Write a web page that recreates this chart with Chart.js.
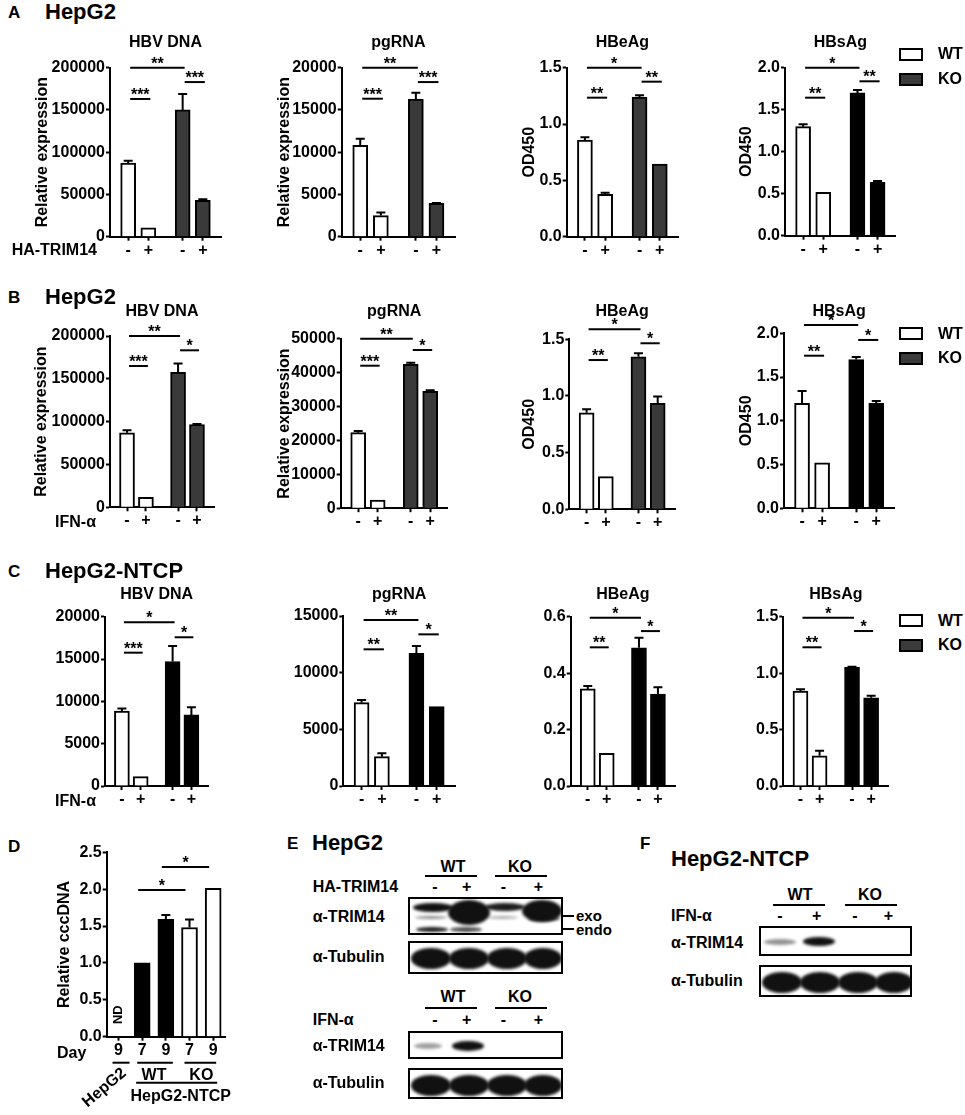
<!DOCTYPE html>
<html>
<head>
<meta charset="utf-8">
<script src="https://cdn.jsdelivr.net/npm/chart.js@4.4.1/dist/chart.umd.min.js"></script>
<style>
  body { margin: 0; background: #fff; width: 965px; height: 1115px; position: relative; overflow: hidden;
         font-family: 'Liberation Sans', Arial, sans-serif; font-weight: bold; color: #000; }
  .t { position: absolute; white-space: nowrap; line-height: 1; transform: translateY(-50%); }
  .r { transform: translate(-100%, -50%); }
  .c { transform: translate(-50%, -50%); }
  .hl { position: absolute; height: 2px; background: #000; }
  .blot { position: absolute; border: 2px solid #000; background: #fff; overflow: hidden; box-sizing: border-box; }
  .band { position: absolute; background: #111; border-radius: 50%; filter: blur(1.6px); }
  .sw { position: absolute; width: 24px; height: 13px; border: 2px solid #000; box-sizing: border-box; }
</style>
</head>
<body>
<script>
// ---------- data ----------
const signs = ['-', '+', '-', '+'];
const legendNames = ['WT', 'KO'];

// A: HepG2, HA-TRIM14
const aDnaVals = [87000, 10500, 150000, 43000];
const aDnaErr  = [3000, 0, 19000, 1200];
const aPgVals  = [10800, 2500, 16300, 3950];
const aPgErr   = [800, 350, 750, 50];
const aHbeVals = [0.858, 0.376, 1.24, 0.645];
const aHbeErr  = [0.025, 0.015, 0.015, 0];
const aHbsVals = [1.298, 0.517, 1.70, 0.635];
const aHbsErr  = [0.03, 0, 0.035, 0.015];

// B: HepG2, IFN-a
const bDnaVals = [87000, 11500, 157500, 96700];
const bDnaErr  = [3000, 0, 10500, 600];
const bPgVals  = [22300, 2400, 42500, 34500];
const bPgErr   = [500, 0, 400, 300];
const bHbeVals = [0.852, 0.288, 1.346, 0.935];
const bHbeErr  = [0.03, 0, 0.03, 0.06];
const bHbsVals = [1.2, 0.52, 1.70, 1.2];
const bHbsErr  = [0.14, 0, 0.03, 0.025];

// C: HepG2-NTCP, IFN-a
const cDnaVals = [8850, 1100, 14700, 8400];
const cDnaErr  = [320, 0, 1850, 900];
const cPgVals  = [7350, 2590, 11700, 7000];
const cPgErr   = [240, 300, 650, 0];
const cHbeVals = [0.344, 0.116, 0.49, 0.326];
const cHbeErr  = [0.01, 0, 0.035, 0.024];
const cHbsVals = [0.842, 0.268, 1.052, 0.782];
const cHbsErr  = [0.015, 0.045, 0.005, 0.018];

// D: relative cccDNA
const dDays  = ['9', '7', '9', '7', '9'];
const dCells = ['HepG2', 'WT', 'WT', 'KO', 'KO'];
const dVals  = [0, 1.0, 1.59, 1.48, 2.01];
const dErr   = [0, 0, 0.06, 0.11, 0];

// significance brackets: [bar from, bar to, level, stars]
const aDnaSig = [[0, 2, 200000, '**'], [0, 1, 163000, '***'], [2, 3, 183000, '***']];
const aPgSig  = [[0, 2, 20000, '**'], [0, 1, 16330, '***'], [2, 3, 18300, '***']];
const aHbeSig = [[0, 2, 1.5, '*'], [0, 1, 1.234, '**'], [2, 3, 1.376, '**']];
const aHbsSig = [[0, 2, 2.0, '*'], [0, 1, 1.643, '**'], [2, 3, 1.838, '**']];
const bDnaSig = [[0, 2, 200000, '**'], [0, 1, 165000, '***'], [2, 3, 183300, '*']];
const bPgSig  = [[0, 2, 50000, '**'], [0, 1, 42060, '***'], [2, 3, 46700, '*']];
const bHbeSig = [[0, 2, 1.588, '*'], [0, 1, 1.317, '**'], [2, 3, 1.465, '*']];
const bHbsSig = [[0, 2, 2.095, '*'], [0, 1, 1.744, '**'], [2, 3, 1.924, '*']];
const cDnaSig = [[0, 2, 19340, '*'], [0, 1, 15750, '***'], [2, 3, 17570, '*']];
const cPgSig  = [[0, 2, 14650, '**'], [0, 1, 12060, '**'], [2, 3, 13380, '*']];
const cHbeSig = [[0, 2, 0.596, '*'], [0, 1, 0.4915, '**'], [2, 3, 0.549, '*']];
const cHbsSig = [[0, 2, 1.49, '*'], [0, 1, 1.229, '**'], [2, 3, 1.373, '*']];
const dSig    = [[1, 3, 1.99, '*'], [2, 4, 2.30, '*']];

// ---------- styling ----------
const FAM = "'Liberation Sans', Arial, sans-serif";
Chart.defaults.font.family = FAM;
Chart.defaults.font.size = 16;
Chart.defaults.font.weight = 'bold';
Chart.defaults.color = '#000';
Chart.defaults.animation = false;

const WHITE = '#ffffff', GREY = '#3a3a3a', BLACK = '#000000';
const SLOT = [0.9, 1.9, 3.6, 4.6];   // x slots for the 4 bars (gap between WT and KO)

// error bars, brackets, chart title
const marks = {
  id: 'marks',
  afterDatasetsDraw(chart, args, o) {
    const { ctx, chartArea: a, scales: { y } } = chart;
    const bars = chart.getDatasetMeta(0).data;
    const raw = chart.data.datasets[0].data;
    ctx.save();
    ctx.strokeStyle = '#000';
    ctx.fillStyle = '#000';
    ctx.lineWidth = 2;
    (o.errs || []).forEach((e, i) => {
      if (!e) return;
      const v = typeof raw[i] === 'object' ? raw[i].y : raw[i];
      const yt = y.getPixelForValue(v + e);
      ctx.beginPath();
      ctx.moveTo(bars[i].x, bars[i].y);
      ctx.lineTo(bars[i].x, yt);
      ctx.moveTo(bars[i].x - 4.5, yt);
      ctx.lineTo(bars[i].x + 4.5, yt);
      ctx.stroke();
    });
    ctx.font = 'bold 16px ' + FAM;
    ctx.textAlign = 'center';
    (o.sigs || []).forEach(([i, j, lvl, txt]) => {
      const x1 = bars[i].x + o.shift, x2 = bars[j].x + o.shift;
      const yy = y.getPixelForValue(lvl);
      ctx.beginPath();
      ctx.moveTo(x1, yy);
      ctx.lineTo(x2, yy);
      ctx.stroke();
      ctx.textBaseline = 'alphabetic';
      ctx.fillText(txt, (x1 + x2) / 2, yy + 1);
    });
    if (o.title) {
      ctx.textBaseline = 'middle';
      ctx.fillText(o.title, (a.left + a.right) / 2, o.titleY);
    }
    if (o.extra) o.extra(chart, ctx);
    ctx.restore();
  }
};

function addChart(g, spec) {
  const L = Math.round(g.ytX ? g.ytX - 9.6 : g.ax - 62);
  const T = Math.round(g.titleY ? g.titleY - 14 : g.top - 18);
  const H = Math.round(g.h || (g.bottom + 24 - T));
  const W = Math.round(g.w || (g.right - L + 6));
  const XH = T + H - g.bottom;
  const box = document.createElement('div');
  box.style.cssText = `position:absolute;left:${L}px;top:${T}px;width:${W}px;height:${H}px`;
  const cv = document.createElement('canvas');
  box.appendChild(cv);
  document.body.appendChild(box);

  const axisGrid = { display: true, drawOnChartArea: false, drawTicks: true, tickLength: 4,
                     tickWidth: 2, tickColor: '#000', offset: false };
  const xScale = spec.category ? {
      type: 'category', offset: true, grid: axisGrid,
      border: { display: true, color: '#000', width: 2 },
      ticks: { padding: 0, autoSkip: false, maxRotation: 0 },
      afterFit: s => { s.height = XH; }
    } : {
      type: 'linear', min: 0, max: 5.5, offset: false, grid: axisGrid,
      border: { display: true, color: '#000', width: 2 },
      afterBuildTicks: s => { s.ticks = SLOT.map(v => ({ value: v })); },
      ticks: { padding: 0, autoSkip: false, maxRotation: 0, callback: (v, i) => signs[i] },
      afterFit: s => { s.height = XH; }
    };

  new Chart(cv, {
    type: 'bar',
    data: {
      labels: spec.labels,
      datasets: [{
        data: spec.category ? spec.vals : spec.vals.map((v, i) => ({ x: SLOT[i], y: v })),
        backgroundColor: spec.colors,
        borderColor: '#000',
        borderWidth: 2,
        barThickness: spec.barW || 15
      }]
    },
    options: {
      responsive: true,
      maintainAspectRatio: false,
      layout: { padding: { top: g.top - T, right: W - (g.right - L), left: 0, bottom: 0 } },
      scales: {
        x: xScale,
        y: {
          min: 0, max: spec.max,
          grid: axisGrid,
          border: { display: true, color: '#000', width: 2 },
          ticks: { stepSize: spec.step, padding: 1,
                   callback: v => spec.dec ? v.toFixed(spec.dec) : String(v) },
          title: { display: !!spec.ytitle, text: spec.ytitle, padding: 0,
                   font: { size: 16, weight: 'bold' } },
          afterFit: s => { s.width = g.ax - L; }
        }
      },
      plugins: {
        legend: { display: false },
        tooltip: { enabled: false },
        marks: { errs: spec.errs, sigs: spec.sigs, shift: spec.shift === undefined ? 2 : spec.shift,
                 title: spec.title, titleY: g.titleY ? g.titleY - T : 0, extra: spec.extra }
      }
    },
    plugins: [marks]
  });
}

const wg = c => [WHITE, WHITE, c, c];

// ---------- row A ----------
addChart({ ax: 110, top: 67.7, bottom: 236.7, right: 221, titleY: 43, ytX: 43 },
  { title: 'HBV DNA', ytitle: 'Relative expression', vals: aDnaVals, errs: aDnaErr, sigs: aDnaSig,
    colors: wg(GREY), max: 200000, step: 50000, dec: 0 });
addChart({ ax: 341.7, top: 67.7, bottom: 236.7, right: 455, titleY: 43, ytX: 285 },
  { title: 'pgRNA', ytitle: 'Relative expression', vals: aPgVals, errs: aPgErr, sigs: aPgSig,
    colors: wg(GREY), max: 20000, step: 5000, dec: 0 });
addChart({ ax: 566.7, top: 67.7, bottom: 236.7, right: 678, titleY: 43, ytX: 530 },
  { title: 'HBeAg', ytitle: 'OD450', vals: aHbeVals, errs: aHbeErr, sigs: aHbeSig,
    colors: wg(GREY), max: 1.5, step: 0.5, dec: 1 });
addChart({ ax: 785, top: 67.7, bottom: 235.7, right: 895.7, titleY: 43, ytX: 746.7 },
  { title: 'HBsAg', ytitle: 'OD450', vals: aHbsVals, errs: aHbsErr, sigs: aHbsSig,
    colors: wg(BLACK), max: 2.0, step: 0.5, dec: 1 });

// ---------- row B ----------
addChart({ ax: 110, top: 336, bottom: 507.3, right: 214, titleY: 311.7, ytX: 41.7 },
  { title: 'HBV DNA', ytitle: 'Relative expression', vals: bDnaVals, errs: bDnaErr, sigs: bDnaSig,
    colors: wg(GREY), max: 200000, step: 50000, dec: 0 });
addChart({ ax: 340.7, top: 338.8, bottom: 508.2, right: 447.7, titleY: 311.7, ytX: 285 },
  { title: 'pgRNA', ytitle: 'Relative expression', vals: bPgVals, errs: bPgErr, sigs: bPgSig,
    colors: wg(GREY), max: 50000, step: 10000, dec: 0 });
addChart({ ax: 569.3, top: 339.3, bottom: 509.3, right: 675, titleY: 311.7, ytX: 530 },
  { title: 'HBeAg', ytitle: 'OD450', vals: bHbeVals, errs: bHbeErr, sigs: bHbeSig,
    colors: wg(GREY), max: 1.5, step: 0.5, dec: 1 });
addChart({ ax: 784, top: 333.3, bottom: 508.3, right: 894.3, titleY: 311.7, ytX: 746.7 },
  { title: 'HBsAg', ytitle: 'OD450', vals: bHbsVals, errs: bHbsErr, sigs: bHbsSig,
    colors: wg(BLACK), max: 2.0, step: 0.5, dec: 1 });

// ---------- row C ----------
addChart({ ax: 105, top: 616.7, bottom: 786, right: 208.3, titleY: 595 },
  { title: 'HBV DNA', vals: cDnaVals, errs: cDnaErr, sigs: cDnaSig,
    colors: wg(BLACK), max: 20000, step: 5000, dec: 0 });
addChart({ ax: 343.3, top: 616, bottom: 786, right: 455, titleY: 595 },
  { title: 'pgRNA', vals: cPgVals, errs: cPgErr, sigs: cPgSig,
    colors: wg(BLACK), max: 15000, step: 5000, dec: 0 });
addChart({ ax: 570.7, top: 616.7, bottom: 786, right: 675, titleY: 595 },
  { title: 'HBeAg', vals: cHbeVals, errs: cHbeErr, sigs: cHbeSig,
    colors: wg(BLACK), max: 0.6, step: 0.2, dec: 1 });
addChart({ ax: 783.3, top: 616.7, bottom: 786, right: 888.3, titleY: 595 },
  { title: 'HBsAg', vals: cHbsVals, errs: cHbsErr, sigs: cHbsSig,
    colors: wg(BLACK), max: 1.5, step: 0.5, dec: 1 });

// ---------- panel D ----------
addChart({ ax: 106.7, top: 852.3, bottom: 1036.7, right: 225, ytX: 65, w: 190, h: 277 },
  { category: true, labels: dDays, ytitle: 'Relative cccDNA', vals: dVals, errs: dErr, sigs: dSig,
    colors: [WHITE, BLACK, BLACK, WHITE, WHITE], max: 2.5, step: 0.5, dec: 1, barW: 16, shift: -4,
    extra(chart, ctx) {
      const { scales: { x }, chartArea: a } = chart;
      const px = i => x.getPixelForValue(i);
      const b = a.bottom;
      const hl = (x1, x2, yy) => { ctx.beginPath(); ctx.moveTo(x1, yy); ctx.lineTo(x2, yy); ctx.stroke(); };
      ctx.save();
      ctx.translate(px(0), b - 22);
      ctx.rotate(-Math.PI / 2);
      ctx.font = 'bold 13px ' + FAM;
      ctx.textBaseline = 'middle';
      ctx.fillText('ND', 0, 0);
      ctx.restore();
      hl(px(0) - 6, px(0) + 11, b + 26);
      hl(px(1) - 5, px(2) + 7, b + 26);
      hl(px(3) - 5, px(4) + 3, b + 26);
      ctx.textBaseline = 'middle';
      ctx.font = 'bold 16px ' + FAM;
      ctx.fillText(dCells[1], (px(1) + px(2)) / 2, b + 38.5);
      ctx.fillText(dCells[3], (px(3) + px(4)) / 2, b + 38.5);
      hl(px(1) - 6, px(4) + 4, b + 46);
      ctx.fillText('HepG2-NTCP', (px(1) + px(4)) / 2 + 3, b + 60);
      ctx.save();
      ctx.translate(px(0) - 14, b + 51);
      ctx.rotate(-40 * Math.PI / 180);
      ctx.fillText(dCells[0], 0, 0);
      ctx.restore();
    } });

// ---------- text, legends, blots ----------
function text(s, x, y, size, cls) {
  const d = document.createElement('div');
  d.className = 't' + (cls ? ' ' + cls : '');
  d.style.left = x + 'px';
  d.style.top = y + 'px';
  d.style.fontSize = size + 'px';
  d.textContent = s;
  document.body.appendChild(d);
}
function line(x1, x2, y) {
  const d = document.createElement('div');
  d.className = 'hl';
  d.style.cssText = `left:${x1}px;top:${y - 1}px;width:${x2 - x1}px`;
  document.body.appendChild(d);
}
function legend(y1, y2) {
  [[y1, WHITE], [y2, GREY]].forEach(([yy, col], i) => {
    const s = document.createElement('div');
    s.className = 'sw';
    s.style.cssText = `left:899px;top:${yy - 6.5}px;background:${col}`;
    document.body.appendChild(s);
    text(legendNames[i], 938, yy, 16);
  });
}
function blot(l, t, w, h, bands) {
  const d = document.createElement('div');
  d.className = 'blot';
  d.style.cssText = `left:${l}px;top:${t}px;width:${w}px;height:${h}px`;
  bands.forEach(([x, y, bw, bh, o]) => {
    const b = document.createElement('div');
    b.className = 'band';
    b.style.cssText = `left:${x}px;top:${y}px;width:${bw}px;height:${bh}px;opacity:${o}`;
    d.appendChild(b);
  });
  document.body.appendChild(d);
}

text('A', 8, 12, 17); text('HepG2', 45, 12, 22);
text('B', 8, 296.5, 17); text('HepG2', 45, 296.5, 22);
text('C', 8, 570.5, 17); text('HepG2-NTCP', 45, 570.5, 22);
text('D', 8, 846, 17);
text('E', 287, 843, 17); text('HepG2', 312, 843, 22);
text('F', 640, 843, 17); text('HepG2-NTCP', 671, 859, 22);

text('HA-TRIM14', 97, 250, 16, 'r');
text('IFN-α', 96, 521.7, 16, 'r');
text('IFN-α', 96, 801, 16, 'r');
text('Day', 57, 1053, 16);

legend(54.3, 79.2);
legend(333.8, 358);
legend(620.8, 645);

// E: HepG2 blots
const eLanes = [435, 466.7, 503.3, 538.3];
const fLanes = [780, 816.7, 855, 888.3];
const tub = [[1, 5, 40, 21, 1], [39, 5, 40, 21, 1], [77, 5, 40, 21, 1], [114, 5, 38, 21, 1]];

text('WT', 453, 866.7, 16, 'c'); text('KO', 520, 866.7, 16, 'c');
line(425, 476.7, 876); line(495, 546.7, 876);
text('HA-TRIM14', 312.7, 886.7, 16);
eLanes.forEach((x, i) => text(signs[i], x, 886.7, 16, 'c'));
text('α-TRIM14', 312.7, 917.3, 16);
text('α-Tubulin', 312.7, 956.7, 16);
blot(408, 897, 155, 38, [
  [3, 4, 40, 9, 1], [38, 1, 42, 25, 1], [75, 4, 40, 8, 0.95], [112, 1, 40, 22, 1],
  [5, 17, 32, 3, 0.5], [78, 17, 30, 3, 0.35], [118, 17, 32, 5, 0.7],
  [6, 28, 32, 5, 0.95], [40, 28, 32, 5, 0.75]
]);
blot(408, 941, 155, 33, tub);
line(563, 574, 916); line(563, 574, 929);
text('exo', 576, 915, 15); text('endo', 576, 929, 15);

text('WT', 453, 996.7, 16, 'c'); text('KO', 520, 996.7, 16, 'c');
line(425, 476.7, 1008.3); line(495, 546.7, 1008.3);
text('IFN-α', 312.7, 1020, 16);
eLanes.forEach((x, i) => text(signs[i], x, 1020, 16, 'c'));
text('α-TRIM14', 312.7, 1046, 16);
text('α-Tubulin', 312.7, 1083.3, 16);
blot(408, 1031, 155, 28, [[4, 10, 28, 6, 0.4], [42, 8, 32, 10, 1]]);
blot(408, 1068, 155, 31, tub);

// F: HepG2-NTCP blots
text('WT', 800, 895, 16, 'c'); text('KO', 870, 895, 16, 'c');
line(772.7, 825, 905); line(845, 896.7, 905);
text('IFN-α', 671, 916, 16);
fLanes.forEach((x, i) => text(signs[i], x, 916, 16, 'c'));
text('α-TRIM14', 671, 942.7, 16);
text('α-Tubulin', 671, 980.7, 16);
blot(759, 926, 153, 30, [[3, 11, 32, 6, 0.45], [42, 9, 32, 9, 1]]);
blot(759, 965, 153, 32, tub);
</script>
</body>
</html>
